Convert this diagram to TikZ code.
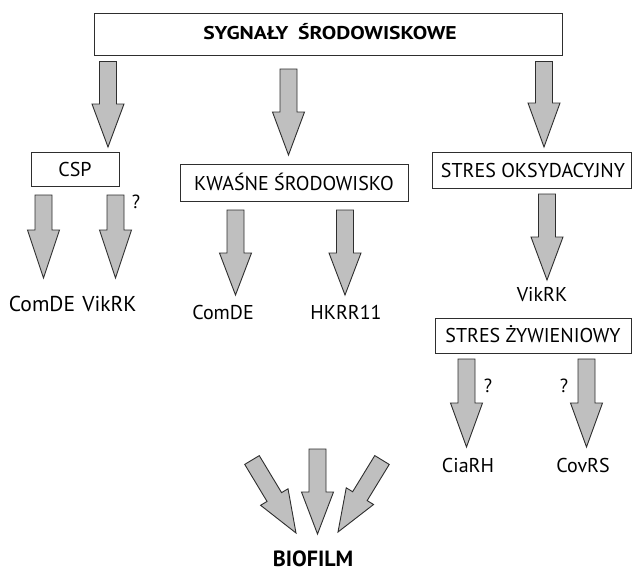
\documentclass[tikz,border=0pt]{standalone}
\usepackage{fontspec}
\setmainfont{PT Sans}
\usetikzlibrary{calc}
\definecolor{arrfill}{gray}{0.75}
\definecolor{edgec}{gray}{0.18}
\def\shaftw{8.5pt}
\def\headw{16pt}
% block arrow from tail coordinate #1 to tip coordinate #2, head length #3
\newcommand\blockarr[3]{%
  \path ($(#2)!#3!(#1)$) coordinate (hb);
  \draw[barrow] ($(#1)!\shaftw!90:(#2)$) -- ($(hb)!\shaftw!90:(#2)$)
    -- ($(hb)!\headw!90:(#2)$) -- (#2) -- ($(hb)!\headw!-90:(#2)$)
    -- ($(hb)!\shaftw!-90:(#2)$) -- ($(#1)!\shaftw!-90:(#2)$) -- cycle;}
\begin{document}
\begin{tikzpicture}[x=1pt,y=-1pt,
  barrow/.style={fill=arrfill,draw=edgec,line width=0.9pt,line join=miter},
  frame/.style={draw=edgec,line width=0.9pt,inner sep=0pt,fill=white},
  lbl/.style={inner sep=0pt,anchor=base,font=\fontsize{20}{23}\selectfont},
  lblb/.style={inner sep=0pt,anchor=base,font=\fontsize{21.5}{24}\selectfont},
  qm/.style={inner sep=0pt,anchor=base,font=\fontsize{19}{22}\selectfont}]
\useasboundingbox[fill=white] (0,0) rectangle (632,571);

% boxes
\node[frame,minimum width=468pt,minimum height=42pt] (top) at (328,34) {};
\node[inner sep=0pt,anchor=base,font=\bfseries\fontsize{18.5}{21}\selectfont] (topt) at (330,39.5) {\scalebox{1.17}[1]{SYGNAŁY\hspace{0.45em}ŚRODOWISKOWE}};

\node[frame,minimum width=88pt,minimum height=34pt] (csp) at (75,169) {};
\node[lbl] (cspt) at (75,176) {CSP};

\node[frame,minimum width=228pt,minimum height=37pt] (kw) at (294,182.5) {};
\node[lbl] (kwt) at (294,190) {KWAŚNE ŚRODOWISKO};

\node[frame,minimum width=199pt,minimum height=36pt] (oks) at (531.5,170) {};
\node[lbl] (okst) at (533,177.5) {STRES OKSYDACYJNY};

\node[frame,minimum width=196pt,minimum height=35pt] (zyw) at (533,335.5) {};
\node[lbl] (zywt) at (533,342) {STRES ŻYWIENIOWY};

% labels
\node[lblb] (comde1) at (42,311) {ComDE};
\node[lblb] (vikrk1) at (109.5,311) {VikRK};
\node[lbl] (comde2) at (223,319) {ComDE};
\node[lbl] (hkrr) at (346,319) {HKRR11};
\node[lbl] (vikrk2) at (542,301) {VikRK};
\node[lbl] (ciarh) at (468,472) {CiaRH};
\node[lbl] (covrs) at (583,472) {CovRS};
\node[qm] (q1) at (136,208.5) {?};
\node[qm] (q2) at (488,392.5) {?};
\node[qm] (q3) at (564,392.5) {?};
\node[inner sep=0pt,anchor=base,font=\bfseries\fontsize{22}{25}\selectfont] (bio) at (313,566) {BIOFILM};

% arrow end points
\coordinate (a1s) at (108,61.5);   \coordinate (a1e) at (108,147);
\coordinate (a2s) at (288.5,69);   \coordinate (a2e) at (288.5,155);
\coordinate (a3s) at (544,61.5);   \coordinate (a3e) at (544,147);
\coordinate (c1s) at (43.5,195);   \coordinate (c1e) at (43.5,278);
\coordinate (c2s) at (115.5,195);  \coordinate (c2e) at (115.5,278);
\coordinate (k1s) at (235.5,210);  \coordinate (k1e) at (235.5,295);
\coordinate (k2s) at (345,210);    \coordinate (k2e) at (345,295);
\coordinate (o1s) at (547,194);    \coordinate (o1e) at (547,280);
\coordinate (z1s) at (466.5,359);  \coordinate (z1e) at (466.5,447);
\coordinate (z2s) at (586.5,359);  \coordinate (z2e) at (586.5,447);
\coordinate (b1s) at (252,460);    \coordinate (b1e) at (296,533);
\coordinate (b2s) at (317.5,449);  \coordinate (b2e) at (317.5,534);
\coordinate (b3s) at (382,460);    \coordinate (b3e) at (338,532);

\blockarr{a1s}{a1e}{43pt}
\blockarr{a2s}{a2e}{43pt}
\blockarr{a3s}{a3e}{44pt}
\blockarr{c1s}{c1e}{48pt}
\blockarr{c2s}{c2e}{48pt}
\blockarr{k1s}{k1e}{42pt}
\blockarr{k2s}{k2e}{42pt}
\blockarr{o1s}{o1e}{43pt}
\blockarr{z1s}{z1e}{44pt}
\blockarr{z2s}{z2e}{44pt}
\blockarr{b1s}{b1e}{42pt}
\blockarr{b2s}{b2e}{42pt}
\blockarr{b3s}{b3e}{42pt}
\end{tikzpicture}
\end{document}
